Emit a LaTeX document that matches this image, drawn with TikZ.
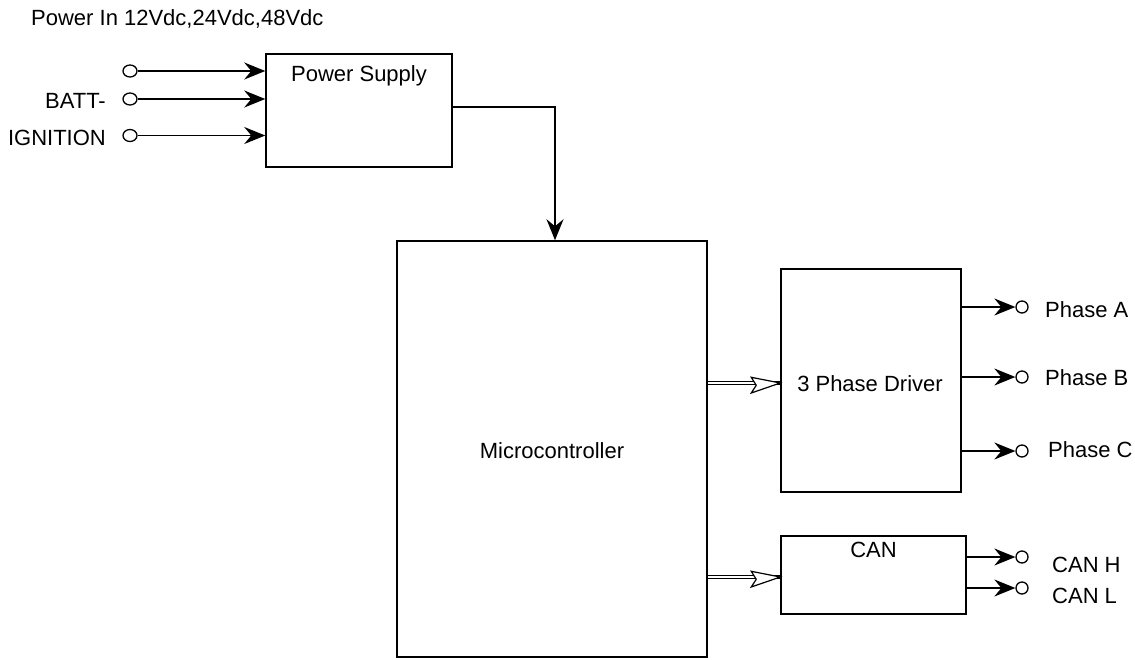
\documentclass[tikz,border=0pt]{standalone}
\usepackage{fontspec}
\setmainfont{Liberation Sans}
\usetikzlibrary{arrows.meta,shapes.geometric}
\begin{document}
\begin{tikzpicture}[x=1pt,y=-1pt,
  every node/.style={font=\fontsize{22}{26}\selectfont, inner sep=0pt},
  box/.style={draw, line width=1.5pt, rectangle},
  term/.style={draw, circle, line width=1.3pt, minimum size=12pt, inner sep=0pt},
  interm/.style={draw, ellipse, line width=1.3pt, minimum width=14pt, minimum height=12pt, inner sep=0pt},
  arr/.style={line width=1.4pt, -{Stealth[length=21pt, width=17pt, inset=7pt]}},
  dbl/.style={line width=1.1pt, double, double distance=2.6pt},
  openhead/.style={line width=1.2pt, fill=white, line join=miter},
  lbl/.style={anchor=base west}]
\useasboundingbox (0,0) rectangle (1135,659);

% title
\node[lbl] (title) at (31,25) {Power In 12Vdc,24Vdc,48Vdc};

% boxes
\node[box, minimum width=186pt, minimum height=113pt] (ps) at (359,110.5) {};
\node[anchor=base] (pst) at (359,81) {Power Supply};
\node[box, minimum width=310pt, minimum height=416pt] (mc) at (552,449) {};
\node[anchor=base] (mct) at (552,458) {Microcontroller};
\node[box, minimum width=180pt, minimum height=223pt] (drv) at (871,380.5) {};
\node[anchor=base] (drvt) at (870,391) {3 Phase Driver};
\node[box, minimum width=185pt, minimum height=78pt] (can) at (873.5,575) {};
\node[anchor=base] (cant) at (873.5,557) {CAN};

% inputs
\node[interm] (i1) at (130,71) {};
\node[interm] (i2) at (130,99) {};
\node[interm] (i3) at (130,135.5) {};
\node[anchor=base east] (l2) at (106,108) {BATT-};
\node[anchor=base east] (l3) at (106,145) {IGNITION};
\draw[arr] (i1) -- (ps.west |- i1);
\draw[arr] (i2) -- (ps.west |- i2);
\draw[arr] (i3) -- (ps.west |- i3);

% power supply to micro
\coordinate (mcin) at ([xshift=3pt]mc.north);
\draw[arr] ([yshift=3.5pt]ps.east) -| (mcin);

% micro to driver and CAN (double line with open head)
\coordinate (d1) at ([yshift=-2.5pt]drv.west);
\coordinate (c1) at ([yshift=-2pt]can.west);
\draw[dbl] (mc.east |- d1) -- (d1);
\draw[openhead] ([shift={(-24pt,-2.3pt)}]d1) -- ++(-5,-8) -- (d1) -- ++(-29,10) -- ++(5,-7.7);
\draw[dbl] (mc.east |- c1) -- (c1);
\draw[openhead] ([shift={(-24pt,-2.3pt)}]c1) -- ++(-5,-8) -- (c1) -- ++(-29,10) -- ++(5,-7.7);

% phase outputs
\node[term] (pa) at (1022,307) {};
\node[term] (pb) at (1022,377) {};
\node[term] (pc) at (1022,451) {};
\draw[arr] (drv.east |- pa) -- (pa);
\draw[arr] (drv.east |- pb) -- (pb);
\draw[arr] (drv.east |- pc) -- (pc);
\node[lbl] (la) at (1045,317) {Phase A};
\node[lbl] (lb) at (1045,385) {Phase B};
\node[lbl] (lc) at (1048,457) {Phase C};

% CAN outputs
\node[term] (ch) at (1022,557) {};
\node[term] (cl) at (1022,588) {};
\draw[arr] (can.east |- ch) -- (ch);
\draw[arr] (can.east |- cl) -- (cl);
\node[lbl] (lch) at (1052,572) {CAN H};
\node[lbl] (lcl) at (1052,603) {CAN L};
\end{tikzpicture}
\end{document}
